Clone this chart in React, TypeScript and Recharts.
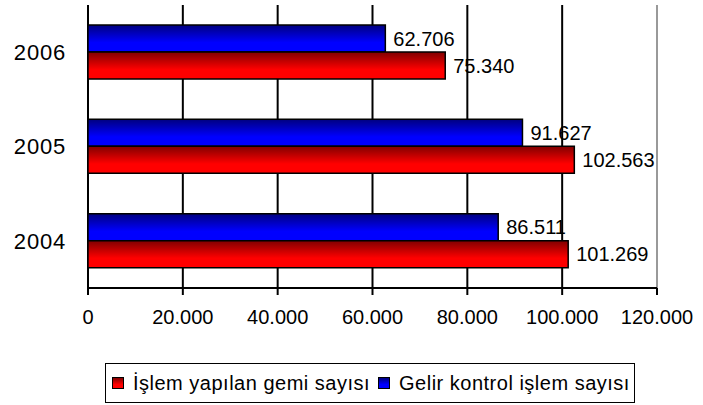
import React from 'react';
import { BarChart, Bar, XAxis, YAxis, CartesianGrid, LabelList, ReferenceLine } from 'recharts';

const years = ['2006', '2005', '2004'];
const gemiSayisi = [75340, 102563, 101269];
const gelirKontrol = [62706, 91627, 86511];
const xTicks = [0, 20000, 40000, 60000, 80000, 100000, 120000];
const seriesNames = ['İşlem yapılan gemi sayısı', 'Gelir kontrol işlem sayısı'];

const data = years.map((y, i) => ({ year: y, gemi: gemiSayisi[i], gelir: gelirKontrol[i] }));

const fmt = (v: number) => String(v).replace(/\B(?=(\d{3})+(?!\d))/g, '.');

const FONT = '"Liberation Sans", Arial, sans-serif';

const legendItems = [
  { name: seriesNames[0], bg: 'linear-gradient(#800000, #ff0000 65%, #ff0000)' },
  { name: seriesNames[1], bg: 'linear-gradient(#000080, #0000ff 65%, #0000ff)' },
];

export default function App() {
  return (
    <div style={{ position: 'fixed', left: 0, top: 0, width: 703, height: 405, background: '#fff', fontFamily: FONT }}>
      <BarChart
        width={703}
        height={405}
        data={data}
        layout="vertical"
        margin={{ top: 5, right: 46, left: 0, bottom: 67 }}
        barCategoryGap={20}
        barGap={0}
      >
        <defs>
          <linearGradient id="gRed" x1="0" y1="0" x2="0" y2="1">
            <stop offset="0%" stopColor="#800000" />
            <stop offset="65%" stopColor="#ff0000" />
            <stop offset="100%" stopColor="#ff0000" />
          </linearGradient>
          <linearGradient id="gBlue" x1="0" y1="0" x2="0" y2="1">
            <stop offset="0%" stopColor="#000080" />
            <stop offset="65%" stopColor="#0000ff" />
            <stop offset="100%" stopColor="#0000ff" />
          </linearGradient>
        </defs>
        <CartesianGrid yAxisId="grid" horizontal={false} stroke="#000" strokeWidth={2} />
        <XAxis
          type="number"
          domain={[0, 120000]}
          ticks={xTicks}
          tickFormatter={fmt}
          height={50}
          axisLine={{ stroke: '#000', strokeWidth: 2 }}
          tickLine={{ stroke: '#000', strokeWidth: 2 }}
          tickSize={7}
          tickMargin={15}
          tick={{ fill: '#000', fontSize: 20, fontFamily: FONT }}
          interval={0}
        />
        <YAxis
          yAxisId="grid"
          type="number"
          domain={[0, 3]}
          ticks={[0, 1, 2, 3]}
          width={0}
          tickFormatter={() => ''}
          axisLine={{ stroke: '#000', strokeWidth: 2 }}
          tickLine={{ stroke: '#000', strokeWidth: 2 }}
          tickSize={8}
          allowDataOverflow
        />
        <YAxis
          yAxisId="cat"
          type="category"
          dataKey="year"
          width={88}
          axisLine={false}
          tickLine={false}
          tickSize={6}
          tickMargin={16}
          tick={{ fill: '#000', fontSize: 22, fontFamily: FONT, letterSpacing: 0.8 }}
        />
        <ReferenceLine yAxisId="grid" x={120000} stroke="#999" strokeWidth={2} />
        <ReferenceLine yAxisId="grid" y={3} stroke="#aaa" strokeWidth={2} />
        <Bar yAxisId="cat" dataKey="gelir" fill="url(#gBlue)" stroke="#000" strokeWidth={1.5} isAnimationActive={false}>
          <LabelList dataKey="gelir" position="right" offset={8} formatter={(v: any) => fmt(Number(v))} fill="#000" fontSize={20} fontFamily={FONT} />
        </Bar>
        <Bar yAxisId="cat" dataKey="gemi" fill="url(#gRed)" stroke="#000" strokeWidth={1.5} isAnimationActive={false}>
          <LabelList dataKey="gemi" position="right" offset={8} formatter={(v: any) => fmt(Number(v))} fill="#000" fontSize={20} fontFamily={FONT} />
        </Bar>
      </BarChart>
      <div
        style={{
          position: 'absolute',
          left: 105,
          top: 363,
          width: 530,
          height: 40,
          boxSizing: 'border-box',
          border: '1px solid #000',
          display: 'flex',
          alignItems: 'center',
          paddingLeft: 6,
          fontSize: 20,
          letterSpacing: 0.5,
          color: '#000',
          whiteSpace: 'nowrap',
        }}
      >
        {legendItems.map((it, i) => (
          <div key={i} style={{ display: 'flex', alignItems: 'center', marginRight: i === 0 ? 8 : 0 }}>
            <span style={{ width: 12, height: 12, boxSizing: 'border-box', border: '1px solid #000', background: it.bg, marginRight: 9, display: 'inline-block' }} />
            <span>{it.name}</span>
          </div>
        ))}
      </div>
    </div>
  );
}
